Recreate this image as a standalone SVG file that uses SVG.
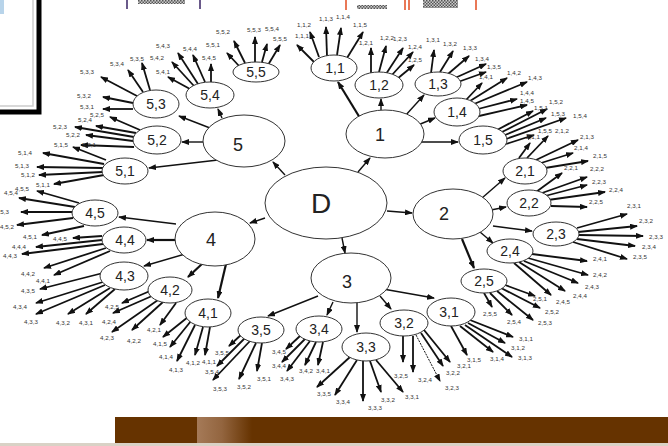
<svg xmlns="http://www.w3.org/2000/svg" width="668" height="446" viewBox="0 0 668 446">
<defs>
<marker id="ah" markerUnits="userSpaceOnUse" markerWidth="8" markerHeight="6" refX="7" refY="3" orient="auto" viewBox="0 0 8 6"><path d="M0,0 L8,3 L0,6z" fill="#111"/></marker>
<marker id="ap" markerUnits="userSpaceOnUse" markerWidth="8" markerHeight="6" refX="7" refY="3" orient="auto" viewBox="0 0 8 6"><path d="M0,0 L8,3 L0,6z" fill="#111"/></marker>
<pattern id="chk" width="3" height="3" patternUnits="userSpaceOnUse"><rect width="3" height="3" fill="#ccc"/><rect width="1.5" height="1.5" fill="#555"/><rect x="1.5" y="1.5" width="1.5" height="1.5" fill="#555"/></pattern>
<linearGradient id="hl" x1="0" x2="1" y1="0" y2="0"><stop offset="0" stop-color="#a57a58"/><stop offset="0.45" stop-color="#93653f"/><stop offset="1" stop-color="#663300"/></linearGradient>
<style>
.e{fill:#fff;stroke:#333;stroke-width:1}
.t0{font-family:"Liberation Sans",Arial,sans-serif;font-size:18px;fill:#222;text-anchor:middle}
.t1{font-family:"Liberation Sans",Arial,sans-serif;font-size:14px;fill:#222;text-anchor:middle}
.tl{font-family:"Liberation Sans",Arial,sans-serif;font-size:6.2px;fill:#333;text-anchor:middle}
.a{stroke:#111;stroke-width:1.8;fill:none;marker-end:url(#ah)}
.p{stroke:#111;stroke-width:1.4;fill:none;marker-end:url(#ap)}
.pt{stroke:#111;stroke-width:2.2;fill:none;marker-end:url(#ap)}
</style>
</defs>
<rect width="668" height="446" fill="#fff"/>
<g id="decor">
<rect x="-4" y="-4" width="43" height="116" fill="#fff" stroke="#000" stroke-width="5"/>
<path d="M33,0 V106 H0" fill="none" stroke="#ccc" stroke-width="1.5"/>
<rect x="0" y="0" width="4" height="14" fill="#b8d4ea"/>
<path d="M127,0 V9 M200,0 V9" stroke="#6a5a8a" stroke-width="2"/>
<rect x="138" y="0" width="47" height="4" fill="url(#chk)"/>
<path d="M346,0 V10 M405,0 V10 M409,0 V10 M476,0 V10" stroke="#e4572e" stroke-width="1.6"/>
<rect x="357" y="5" width="30" height="4" fill="url(#chk)"/>
<rect x="423" y="0" width="35" height="8" fill="url(#chk)"/>
<rect x="115" y="417" width="553" height="26" fill="#663300"/>
<rect x="197" y="417" width="55" height="26" fill="url(#hl)"/>
<rect x="0" y="443" width="668" height="3" fill="#d9d2c6"/>
</g>
<g id="connectors">
<line class="p" x1="358" y1="172" x2="370" y2="158"/>
<line class="p" x1="387" y1="211" x2="412" y2="213"/>
<line class="p" x1="342" y1="238" x2="345" y2="253"/>
<line class="p" x1="265" y1="218" x2="250" y2="223"/>
<line class="p" x1="285" y1="175" x2="273" y2="162"/>
<line class="pt" x1="360" y1="118" x2="338" y2="82"/>
<line class="p" x1="381" y1="110" x2="381" y2="99"/>
<line class="p" x1="405" y1="116" x2="424" y2="95"/>
<line class="p" x1="418" y1="125" x2="435" y2="118"/>
<line class="p" x1="420" y1="142" x2="458" y2="142"/>
<line class="p" x1="482" y1="198" x2="505" y2="178"/>
<line class="p" x1="491" y1="210" x2="506" y2="207"/>
<line class="p" x1="493" y1="226" x2="532" y2="231"/>
<line class="p" x1="480" y1="232" x2="493" y2="243"/>
<line class="pt" x1="462" y1="239" x2="474" y2="268"/>
<line class="p" x1="383" y1="289" x2="434" y2="298"/>
<line class="p" x1="380" y1="296" x2="391" y2="309"/>
<line class="p" x1="357" y1="303" x2="357" y2="332"/>
<line class="p" x1="333" y1="302" x2="327" y2="315"/>
<line class="p" x1="318" y1="296" x2="268" y2="316"/>
<line class="pt" x1="226" y1="264" x2="218" y2="298"/>
<line class="pt" x1="203" y1="263" x2="188" y2="277"/>
<line class="p" x1="185" y1="254" x2="144" y2="266"/>
<line class="pt" x1="176" y1="240" x2="147" y2="240"/>
<line class="p" x1="176" y1="224" x2="119" y2="217"/>
<line class="p" x1="218" y1="160" x2="149" y2="168"/>
<line class="p" x1="203" y1="142" x2="182" y2="142"/>
<line class="p" x1="210" y1="128" x2="179" y2="116"/>
<line class="p" x1="222" y1="118" x2="218" y2="109"/>
<line class="a" x1="314" y1="62" x2="297" y2="45"/><line class="a" x1="319" y1="57" x2="310" y2="32"/><line class="a" x1="327" y1="56" x2="326" y2="27"/><line class="a" x1="337" y1="55" x2="341" y2="28"/><line class="a" x1="347" y1="58" x2="363" y2="32"/>
<line class="a" x1="371" y1="73" x2="371" y2="48"/><line class="a" x1="379" y1="72" x2="386" y2="46"/><line class="a" x1="386" y1="74" x2="403" y2="48"/><line class="a" x1="391" y1="76" x2="413" y2="52"/><line class="a" x1="397" y1="79" x2="414" y2="65"/>
<line class="a" x1="431" y1="73" x2="434" y2="50"/><line class="a" x1="440" y1="72" x2="453" y2="51"/><line class="a" x1="448" y1="74" x2="469" y2="56"/><line class="a" x1="455" y1="78" x2="486" y2="64"/><line class="a" x1="458" y1="82" x2="486" y2="72"/>
<line class="a" x1="466" y1="100" x2="482" y2="83"/><line class="a" x1="470" y1="101" x2="507" y2="78"/><line class="a" x1="474" y1="104" x2="527" y2="82"/><line class="a" x1="478" y1="109" x2="517" y2="99"/><line class="a" x1="479" y1="116" x2="527" y2="105"/>
<line class="a" x1="497" y1="130" x2="533" y2="111"/><line class="a" x1="502" y1="132" x2="547" y2="109"/><line class="a" x1="505" y1="135" x2="546" y2="118"/><line class="a" x1="506" y1="139" x2="566" y2="118"/><line class="a" x1="506" y1="144" x2="534" y2="135"/>
<line class="a" x1="519" y1="158" x2="530" y2="143"/><line class="a" x1="527" y1="158" x2="548" y2="136"/><line class="a" x1="536" y1="160" x2="578" y2="140"/><line class="a" x1="541" y1="163" x2="573" y2="153"/><line class="a" x1="545" y1="168" x2="588" y2="161"/>
<line class="a" x1="536" y1="192" x2="562" y2="173"/><line class="a" x1="542" y1="193" x2="587" y2="177"/><line class="a" x1="545" y1="196" x2="587" y2="185"/><line class="a" x1="548" y1="200" x2="605" y2="192"/><line class="a" x1="551" y1="206" x2="587" y2="207"/>
<line class="a" x1="577" y1="228" x2="627" y2="214"/><line class="a" x1="578" y1="232" x2="637" y2="226"/><line class="a" x1="579" y1="235" x2="643" y2="236"/><line class="a" x1="577" y1="239" x2="635" y2="246"/><line class="a" x1="573" y1="242" x2="627" y2="259"/>
<line class="a" x1="532" y1="254" x2="587" y2="261"/><line class="a" x1="528" y1="258" x2="588" y2="275"/><line class="a" x1="524" y1="261" x2="578" y2="283"/><line class="a" x1="519" y1="262" x2="565" y2="291"/><line class="a" x1="514" y1="263" x2="551" y2="295"/>
<line class="a" x1="505" y1="285" x2="535" y2="296"/><line class="a" x1="501" y1="288" x2="540" y2="308"/><line class="a" x1="497" y1="291" x2="533" y2="320"/><line class="a" x1="490" y1="293" x2="512" y2="315"/><line class="a" x1="484" y1="293" x2="492" y2="307"/>
<line class="a" x1="470" y1="320" x2="513" y2="337"/><line class="a" x1="468" y1="323" x2="505" y2="343"/><line class="a" x1="465" y1="325" x2="512" y2="357"/><line class="a" x1="460" y1="326" x2="493" y2="352"/><line class="a" x1="451" y1="326" x2="467" y2="355"/>
<line class="a" x1="424" y1="330" x2="450" y2="362"/><line class="a" x1="421" y1="333" x2="443" y2="366"/><line class="a" x1="413" y1="336" x2="413" y2="372"/><line class="a" x1="403" y1="336" x2="403" y2="362"/>
<line x1="416" y1="335" x2="440" y2="381" stroke="#111" stroke-width="1" stroke-dasharray="2 1" marker-end="url(#ah)"/>
<line class="a" x1="376" y1="360" x2="403" y2="392"/><line class="a" x1="370" y1="361" x2="381" y2="392"/><line class="a" x1="363" y1="361" x2="363" y2="401"/><line class="a" x1="357" y1="360" x2="335" y2="395"/><line class="a" x1="350" y1="357" x2="317" y2="387"/>
<line class="a" x1="323" y1="342" x2="318" y2="365"/><line class="a" x1="316" y1="342" x2="305" y2="365"/><line class="a" x1="310" y1="341" x2="287" y2="371"/><line class="a" x1="305" y1="339" x2="282" y2="362"/><line class="a" x1="300" y1="336" x2="286" y2="349"/>
<line class="a" x1="262" y1="343" x2="257" y2="371"/><line class="a" x1="256" y1="343" x2="239" y2="379"/><line class="a" x1="250" y1="341" x2="213" y2="380"/><line class="a" x1="245" y1="338" x2="217" y2="366"/><line class="a" x1="242" y1="334" x2="229" y2="346"/>
<line class="a" x1="210" y1="327" x2="205" y2="355"/><line class="a" x1="203" y1="327" x2="195" y2="355"/><line class="a" x1="195" y1="325" x2="177" y2="361"/><line class="a" x1="191" y1="321" x2="170" y2="347"/><line class="a" x1="188" y1="317" x2="163" y2="337"/>
<line class="a" x1="176" y1="303" x2="160" y2="325"/><line class="a" x1="163" y1="302" x2="132" y2="330"/><line class="a" x1="158" y1="300" x2="112" y2="332"/><line class="a" x1="152" y1="296" x2="113" y2="313"/><line class="a" x1="150" y1="291" x2="122" y2="303"/>
<line class="a" x1="115" y1="289" x2="86" y2="314"/><line class="a" x1="110" y1="288" x2="68" y2="314"/><line class="a" x1="105" y1="285" x2="36" y2="314"/><line class="a" x1="103" y1="282" x2="36" y2="303"/><line class="a" x1="103" y1="273" x2="40" y2="289"/>
<line class="a" x1="110" y1="251" x2="54" y2="275"/><line class="a" x1="106" y1="248" x2="44" y2="268"/><line class="a" x1="103" y1="244" x2="22" y2="254"/><line class="a" x1="102" y1="240" x2="36" y2="247"/><line class="a" x1="102" y1="236" x2="73" y2="238"/>
<line class="a" x1="84" y1="226" x2="42" y2="235"/><line class="a" x1="73" y1="218" x2="17" y2="225"/><line class="a" x1="72" y1="212" x2="21" y2="212"/><line class="a" x1="75" y1="207" x2="19" y2="198"/><line class="a" x1="79" y1="203" x2="37" y2="191"/>
<line class="a" x1="104" y1="175" x2="54" y2="184"/><line class="a" x1="103" y1="172" x2="39" y2="175"/><line class="a" x1="103" y1="168" x2="37" y2="167"/><line class="a" x1="104" y1="164" x2="43" y2="153"/><line class="a" x1="106" y1="160" x2="73" y2="147"/>
<line class="a" x1="134" y1="147" x2="81" y2="145"/><line class="a" x1="133" y1="141" x2="86" y2="135"/><line class="a" x1="134" y1="137" x2="75" y2="127"/><line class="a" x1="136" y1="133" x2="96" y2="126"/><line class="a" x1="140" y1="130" x2="110" y2="117"/>
<line class="a" x1="133" y1="109" x2="103" y2="109"/><line class="a" x1="133" y1="103" x2="103" y2="97"/><line class="a" x1="137" y1="96" x2="101" y2="77"/><line class="a" x1="143" y1="92" x2="128" y2="70"/><line class="a" x1="150" y1="90" x2="142" y2="63"/>
<line class="a" x1="190" y1="89" x2="168" y2="77"/><line class="a" x1="194" y1="86" x2="172" y2="62"/><line class="a" x1="198" y1="84" x2="178" y2="53"/><line class="a" x1="205" y1="82" x2="193" y2="55"/><line class="a" x1="211" y1="82" x2="211" y2="64"/>
<line class="a" x1="240" y1="67" x2="227" y2="53"/><line class="a" x1="245" y1="63" x2="234" y2="41"/><line class="a" x1="255" y1="62" x2="255" y2="37"/><line class="a" x1="262" y1="62" x2="267" y2="44"/><line class="a" x1="268" y1="65" x2="280" y2="45"/>
</g>
<g id="D"><ellipse class="e" cx="326" cy="203" rx="61" ry="36"/><text x="321" y="213" font-family="Liberation Sans, Arial, sans-serif" font-size="28" fill="#222" text-anchor="middle">D</text></g>
<g id="n1"><ellipse class="e" cx="385" cy="134" rx="39" ry="24"/><text class="t0" x="380" y="141">1</text></g>
<g id="n2"><ellipse class="e" cx="453" cy="214" rx="40" ry="25"/><text class="t0" x="444" y="220">2</text></g>
<g id="n3"><ellipse class="e" cx="351" cy="278" rx="40" ry="25"/><text class="t0" x="347" y="288">3</text></g>
<g id="n4"><ellipse class="e" cx="215" cy="239" rx="40" ry="27"/><text class="t0" x="211" y="246">4</text></g>
<g id="n5"><ellipse class="e" cx="244" cy="141" rx="41" ry="26"/><text class="t0" x="238" y="151">5</text></g>
<g id="n1-1"><ellipse class="e" cx="334" cy="68" rx="23" ry="13"/><text class="t1" x="335" y="73">1,1</text></g>
<g id="n1-2"><ellipse class="e" cx="379" cy="85" rx="24" ry="13"/><text class="t1" x="379" y="90">1,2</text></g>
<g id="n1-3"><ellipse class="e" cx="438" cy="84" rx="23" ry="12"/><text class="t1" x="438" y="89">1,3</text></g>
<g id="n1-4"><ellipse class="e" cx="457" cy="112" rx="23" ry="14"/><text class="t1" x="457" y="117">1,4</text></g>
<g id="n1-5"><ellipse class="e" cx="483" cy="140" rx="24" ry="14"/><text class="t1" x="483" y="145">1,5</text></g>
<g id="n2-1"><ellipse class="e" cx="525" cy="171" rx="22" ry="13"/><text class="t1" x="525" y="176">2,1</text></g>
<g id="n2-2"><ellipse class="e" cx="529" cy="203" rx="22" ry="13"/><text class="t1" x="529" y="208">2,2</text></g>
<g id="n2-3"><ellipse class="e" cx="556" cy="234" rx="23" ry="12"/><text class="t1" x="556" y="239">2,3</text></g>
<g id="n2-4"><ellipse class="e" cx="510" cy="251" rx="23" ry="12"/><text class="t1" x="510" y="256">2,4</text></g>
<g id="n2-5"><ellipse class="e" cx="484" cy="281" rx="23" ry="12"/><text class="t1" x="484" y="286">2,5</text></g>
<g id="n3-1"><ellipse class="e" cx="451" cy="312" rx="24" ry="14"/><text class="t1" x="449" y="317">3,1</text></g>
<g id="n3-2"><ellipse class="e" cx="404" cy="323" rx="24" ry="13"/><text class="t1" x="404" y="328">3,2</text></g>
<g id="n3-3"><ellipse class="e" cx="366" cy="347" rx="24" ry="14"/><text class="t1" x="366" y="352">3,3</text></g>
<g id="n3-4"><ellipse class="e" cx="319" cy="329" rx="23" ry="13"/><text class="t1" x="319" y="334">3,4</text></g>
<g id="n3-5"><ellipse class="e" cx="261" cy="330" rx="23" ry="13"/><text class="t1" x="261" y="335">3,5</text></g>
<g id="n4-1"><ellipse class="e" cx="208" cy="313" rx="23" ry="14"/><text class="t1" x="208" y="318">4,1</text></g>
<g id="n4-2"><ellipse class="e" cx="170" cy="290" rx="22" ry="13"/><text class="t1" x="170" y="295">4,2</text></g>
<g id="n4-3"><ellipse class="e" cx="124" cy="276" rx="24" ry="14"/><text class="t1" x="125" y="281">4,3</text></g>
<g id="n4-4"><ellipse class="e" cx="124" cy="240" rx="22" ry="13"/><text class="t1" x="125" y="245">4,4</text></g>
<g id="n4-5"><ellipse class="e" cx="95" cy="213" rx="23" ry="13"/><text class="t1" x="95" y="218">4,5</text></g>
<g id="n5-1"><ellipse class="e" cx="125" cy="171" rx="23" ry="13"/><text class="t1" x="125" y="176">5,1</text></g>
<g id="n5-2"><ellipse class="e" cx="157" cy="140" rx="24" ry="14"/><text class="t1" x="157" y="145">5,2</text></g>
<g id="n5-3"><ellipse class="e" cx="156" cy="104" rx="23" ry="14"/><text class="t1" x="156" y="109">5,3</text></g>
<g id="n5-4"><ellipse class="e" cx="210" cy="95" rx="24" ry="13"/><text class="t1" x="210" y="100">5,4</text></g>
<g id="n5-5"><ellipse class="e" cx="256" cy="72" rx="23" ry="10"/><text class="t1" x="256" y="77">5,5</text></g>
<g id="leaves" class="tl">
<g id="n1-1-1"><text class="tl" x="302" y="38">1,1,1</text></g>
<g id="n1-1-2"><text class="tl" x="304" y="27">1,1,2</text></g>
<g id="n1-1-3"><text class="tl" x="326" y="21">1,1,3</text></g>
<g id="n1-1-4"><text class="tl" x="343" y="19">1,1,4</text></g>
<g id="n1-1-5"><text class="tl" x="360" y="27">1,1,5</text></g>
<g id="n1-2-1"><text class="tl" x="366" y="45">1,2,1</text></g>
<g id="n1-2-2"><text class="tl" x="387" y="40">1,2,2</text></g>
<g id="n1-2-3"><text class="tl" x="400" y="41">1,2,3</text></g>
<g id="n1-2-4"><text class="tl" x="415" y="49">1,2,4</text></g>
<g id="n1-2-5"><text class="tl" x="415" y="62">1,2,5</text></g>
<g id="n1-3-1"><text class="tl" x="433" y="42">1,3,1</text></g>
<g id="n1-3-2"><text class="tl" x="450" y="46">1,3,2</text></g>
<g id="n1-3-3"><text class="tl" x="470" y="50">1,3,3</text></g>
<g id="n1-3-4"><text class="tl" x="482" y="61">1,3,4</text></g>
<g id="n1-3-5"><text class="tl" x="494" y="69">1,3,5</text></g>
<g id="n1-4-1"><text class="tl" x="486" y="79">1,4,1</text></g>
<g id="n1-4-2"><text class="tl" x="514" y="75">1,4,2</text></g>
<g id="n1-4-3"><text class="tl" x="535" y="80">1,4,3</text></g>
<g id="n1-4-4"><text class="tl" x="527" y="95">1,4,4</text></g>
<g id="n1-4-5"><text class="tl" x="527" y="103">1,4,5</text></g>
<g id="n1-5-1"><text class="tl" x="541" y="110">1,5,1</text></g>
<g id="n1-5-2"><text class="tl" x="556" y="104">1,5,2</text></g>
<g id="n1-5-3"><text class="tl" x="558" y="116">1,5,3</text></g>
<g id="n1-5-4"><text class="tl" x="580" y="118">1,5,4</text></g>
<g id="n1-5-5"><text class="tl" x="545" y="133">1,5,5</text></g>
<g id="n2-1-1"><text class="tl" x="533" y="139">2,1,1</text></g>
<g id="n2-1-2"><text class="tl" x="562" y="133">2,1,2</text></g>
<g id="n2-1-3"><text class="tl" x="587" y="139">2,1,3</text></g>
<g id="n2-1-4"><text class="tl" x="581" y="150">2,1,4</text></g>
<g id="n2-1-5"><text class="tl" x="600" y="158">2,1,5</text></g>
<g id="n2-2-1"><text class="tl" x="571" y="170">2,2,1</text></g>
<g id="n2-2-2"><text class="tl" x="597" y="171">2,2,2</text></g>
<g id="n2-2-3"><text class="tl" x="599" y="184">2,2,3</text></g>
<g id="n2-2-4"><text class="tl" x="616" y="192">2,2,4</text></g>
<g id="n2-2-5"><text class="tl" x="596" y="204">2,2,5</text></g>
<g id="n2-3-1"><text class="tl" x="634" y="208">2,3,1</text></g>
<g id="n2-3-2"><text class="tl" x="646" y="223">2,3,2</text></g>
<g id="n2-3-3"><text class="tl" x="656" y="239">2,3,3</text></g>
<g id="n2-3-4"><text class="tl" x="649" y="249">2,3,4</text></g>
<g id="n2-3-5"><text class="tl" x="640" y="259">2,3,5</text></g>
<g id="n2-4-1"><text class="tl" x="600" y="261">2,4,1</text></g>
<g id="n2-4-2"><text class="tl" x="600" y="277">2,4,2</text></g>
<g id="n2-4-3"><text class="tl" x="592" y="289">2,4,3</text></g>
<g id="n2-4-4"><text class="tl" x="580" y="298">2,4,4</text></g>
<g id="n2-4-5"><text class="tl" x="563" y="304">2,4,5</text></g>
<g id="n2-5-1"><text class="tl" x="540" y="301">2,5,1</text></g>
<g id="n2-5-2"><text class="tl" x="552" y="314">2,5,2</text></g>
<g id="n2-5-3"><text class="tl" x="545" y="325">2,5,3</text></g>
<g id="n2-5-4"><text class="tl" x="514" y="324">2,5,4</text></g>
<g id="n2-5-5"><text class="tl" x="490" y="316">2,5,5</text></g>
<g id="n3-1-1"><text class="tl" x="526" y="341">3,1,1</text></g>
<g id="n3-1-2"><text class="tl" x="518" y="350">3,1,2</text></g>
<g id="n3-1-3"><text class="tl" x="525" y="360">3,1,3</text></g>
<g id="n3-1-4"><text class="tl" x="497" y="361">3,1,4</text></g>
<g id="n3-1-5"><text class="tl" x="474" y="362">3,1,5</text></g>
<g id="n3-2-1"><text class="tl" x="464" y="368">3,2,1</text></g>
<g id="n3-2-2"><text class="tl" x="453" y="375">3,2,2</text></g>
<g id="n3-2-3"><text class="tl" x="452" y="390">3,2,3</text></g>
<g id="n3-2-4"><text class="tl" x="425" y="382">3,2,4</text></g>
<g id="n3-2-5"><text class="tl" x="401" y="378">3,2,5</text></g>
<g id="n3-3-1"><text class="tl" x="412" y="399">3,3,1</text></g>
<g id="n3-3-2"><text class="tl" x="388" y="402">3,3,2</text></g>
<g id="n3-3-3"><text class="tl" x="375" y="410">3,3,3</text></g>
<g id="n3-3-4"><text class="tl" x="343" y="404">3,3,4</text></g>
<g id="n3-3-5"><text class="tl" x="324" y="396">3,3,5</text></g>
<g id="n3-4-1"><text class="tl" x="323" y="373">3,4,1</text></g>
<g id="n3-4-2"><text class="tl" x="306" y="373">3,4,2</text></g>
<g id="n3-4-3"><text class="tl" x="287" y="381">3,4,3</text></g>
<g id="n3-4-4"><text class="tl" x="279" y="368">3,4,4</text></g>
<g id="n3-4-5"><text class="tl" x="279" y="354">3,4,5</text></g>
<g id="n3-5-1"><text class="tl" x="264" y="381">3,5,1</text></g>
<g id="n3-5-2"><text class="tl" x="244" y="389">3,5,2</text></g>
<g id="n3-5-3"><text class="tl" x="220" y="391">3,5,3</text></g>
<g id="n3-5-4"><text class="tl" x="212" y="374">3,5,4</text></g>
<g id="n3-5-5"><text class="tl" x="222" y="355">3,5,5</text></g>
<g id="n4-1-1"><text class="tl" x="209" y="364">4,1,1</text></g>
<g id="n4-1-2"><text class="tl" x="193" y="365">4,1,2</text></g>
<g id="n4-1-3"><text class="tl" x="176" y="372">4,1,3</text></g>
<g id="n4-1-4"><text class="tl" x="166" y="359">4,1,4</text></g>
<g id="n4-1-5"><text class="tl" x="160" y="346">4,1,5</text></g>
<g id="n4-2-1"><text class="tl" x="154" y="332">4,2,1</text></g>
<g id="n4-2-2"><text class="tl" x="134" y="343">4,2,2</text></g>
<g id="n4-2-3"><text class="tl" x="107" y="340">4,2,3</text></g>
<g id="n4-2-4"><text class="tl" x="109" y="324">4,2,4</text></g>
<g id="n4-2-5"><text class="tl" x="112" y="309">4,2,5</text></g>
<g id="n4-3-1"><text class="tl" x="86" y="325">4,3,1</text></g>
<g id="n4-3-2"><text class="tl" x="63" y="325">4,3,2</text></g>
<g id="n4-3-3"><text class="tl" x="31" y="324">4,3,3</text></g>
<g id="n4-3-4"><text class="tl" x="20" y="309">4,3,4</text></g>
<g id="n4-3-5"><text class="tl" x="28" y="293">4,3,5</text></g>
<g id="n4-4-1"><text class="tl" x="43" y="283">4,4,1</text></g>
<g id="n4-4-2"><text class="tl" x="28" y="276">4,4,2</text></g>
<g id="n4-4-3"><text class="tl" x="10" y="258">4,4,3</text></g>
<g id="n4-4-4"><text class="tl" x="19" y="249">4,4,4</text></g>
<g id="n4-4-5"><text class="tl" x="60" y="241">4,4,5</text></g>
<g id="n4-5-1"><text class="tl" x="30" y="239">4,5,1</text></g>
<g id="n4-5-2"><text class="tl" x="7" y="229">4,5,2</text></g>
<g id="n4-5-3"><text class="tl" x="2" y="214" text-anchor="start">4,5,3</text></g>
<g id="n4-5-4"><text class="tl" x="11" y="195" text-anchor="end">4,5,4</text></g>
<g id="n4-5-5"><text class="tl" x="22" y="191">4,5,5</text></g>
<g id="n5-1-1"><text class="tl" x="43" y="187">5,1,1</text></g>
<g id="n5-1-2"><text class="tl" x="28" y="177">5,1,2</text></g>
<g id="n5-1-3"><text class="tl" x="22" y="168">5,1,3</text></g>
<g id="n5-1-4"><text class="tl" x="25" y="155">5,1,4</text></g>
<g id="n5-1-5"><text class="tl" x="61" y="147">5,1,5</text></g>
<g id="n5-2-1"><text class="tl" x="89" y="147">5,2,1</text></g>
<g id="n5-2-2"><text class="tl" x="73" y="137">5,2,2</text></g>
<g id="n5-2-3"><text class="tl" x="60" y="129">5,2,3</text></g>
<g id="n5-2-4"><text class="tl" x="85" y="122">5,2,4</text></g>
<g id="n5-2-5"><text class="tl" x="97" y="117">5,2,5</text></g>
<g id="n5-3-1"><text class="tl" x="87" y="109">5,3,1</text></g>
<g id="n5-3-2"><text class="tl" x="84" y="98">5,3,2</text></g>
<g id="n5-3-3"><text class="tl" x="87" y="74">5,3,3</text></g>
<g id="n5-3-4"><text class="tl" x="117" y="66">5,3,4</text></g>
<g id="n5-3-5"><text class="tl" x="137" y="61">5,3,5</text></g>
<g id="n5-4-1"><text class="tl" x="163" y="74">5,4,1</text></g>
<g id="n5-4-2"><text class="tl" x="157" y="60">5,4,2</text></g>
<g id="n5-4-3"><text class="tl" x="163" y="48">5,4,3</text></g>
<g id="n5-4-4"><text class="tl" x="190" y="51">5,4,4</text></g>
<g id="n5-4-5"><text class="tl" x="209" y="60">5,4,5</text></g>
<g id="n5-5-1"><text class="tl" x="213" y="47">5,5,1</text></g>
<g id="n5-5-2"><text class="tl" x="223" y="34">5,5,2</text></g>
<g id="n5-5-3"><text class="tl" x="254" y="32">5,5,3</text></g>
<g id="n5-5-4"><text class="tl" x="272" y="31">5,5,4</text></g>
<g id="n5-5-5"><text class="tl" x="280" y="41">5,5,5</text></g>
</g>
</svg>
